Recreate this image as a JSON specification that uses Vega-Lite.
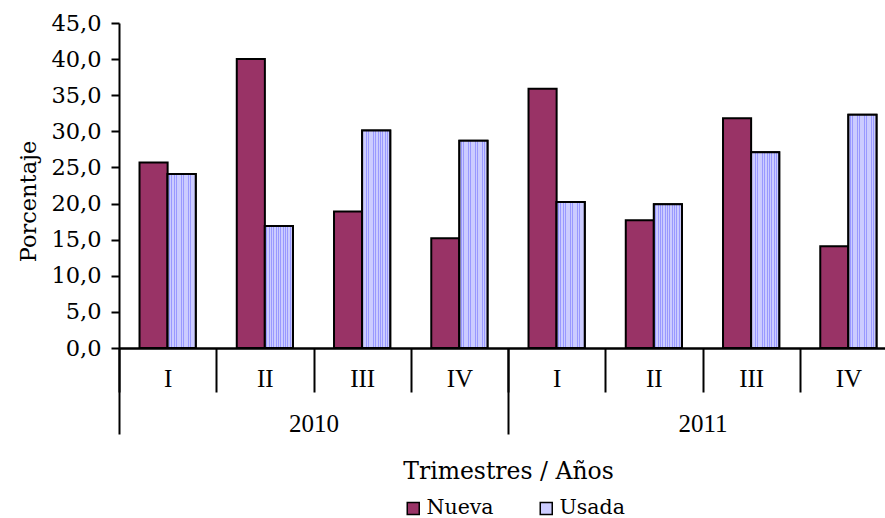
{
  "$schema": "https://vega.github.io/schema/vega-lite/v6.json",
  "width": 778,
  "height": 325,
  "padding": {"left": 17, "top": 12, "right": 0, "bottom": 0},
  "background": "white",
  "config": {
    "view": {"stroke": null},
    "axis": {"domainColor": "#000", "tickColor": "#000", "domainWidth": 2, "tickWidth": 2, "labelColor": "#000", "titleColor": "#000", "grid": false}
  },
  "data": {"values": [
    {"year": "2010", "cat": "2010 I", "tipo": "Nueva", "valor": 25.7},
    {"year": "2010", "cat": "2010 I", "tipo": "Usada", "valor": 24.1},
    {"year": "2010", "cat": "2010 II", "tipo": "Nueva", "valor": 40.0},
    {"year": "2010", "cat": "2010 II", "tipo": "Usada", "valor": 16.9},
    {"year": "2010", "cat": "2010 III", "tipo": "Nueva", "valor": 18.9},
    {"year": "2010", "cat": "2010 III", "tipo": "Usada", "valor": 30.1},
    {"year": "2010", "cat": "2010 IV", "tipo": "Nueva", "valor": 15.2},
    {"year": "2010", "cat": "2010 IV", "tipo": "Usada", "valor": 28.7},
    {"year": "2011", "cat": "2011 I", "tipo": "Nueva", "valor": 35.9},
    {"year": "2011", "cat": "2011 I", "tipo": "Usada", "valor": 20.2},
    {"year": "2011", "cat": "2011 II", "tipo": "Nueva", "valor": 17.7},
    {"year": "2011", "cat": "2011 II", "tipo": "Usada", "valor": 19.9},
    {"year": "2011", "cat": "2011 III", "tipo": "Nueva", "valor": 31.8},
    {"year": "2011", "cat": "2011 III", "tipo": "Usada", "valor": 27.1},
    {"year": "2011", "cat": "2011 IV", "tipo": "Nueva", "valor": 14.1},
    {"year": "2011", "cat": "2011 IV", "tipo": "Usada", "valor": 32.3}
  ]},
  "layer": [
    {
      "layer": [
        {
          "mark": {"type": "bar", "stroke": "#000", "strokeWidth": 2},
          "encoding": {
            "x": {"field": "cat", "type": "nominal", "sort": null, "scale": {"paddingInner": 0, "paddingOuter": 0},
              "axis": {"title": null, "orient": "bottom", "labelExpr": "split(datum.label,' ')[1]", "tickBand": "extent", "tickSize": 44, "labelPadding": -13.5, "labelBaseline": "middle", "labelFont": "Liberation Serif", "labelFontSize": 25, "labelAngle": 0}},
            "xOffset": {"field": "tipo", "type": "nominal", "scale": {"paddingInner": 0, "paddingOuter": 0.73}},
            "y": {"field": "valor", "type": "quantitative", "scale": {"domain": [0, 45]},
              "axis": {"title": "Porcentaje", "values": [0, 5, 10, 15, 20, 25, 30, 35, 40, 45], "labelExpr": "replace(format(datum.value,'.1f'),'.',',')", "labelFont": "DejaVu Serif", "labelFontSize": 22.5, "tickSize": 8, "labelPadding": 10, "titleFont": "DejaVu Serif", "titleFontSize": 22.5, "titleFontWeight": "normal", "titlePadding": 10, "titleY": 178}},
            "color": {"field": "tipo", "type": "nominal", "scale": {"range": ["#993366", "#CCCCFF"]},
              "legend": {"title": null, "orient": "none", "legendX": 284, "legendY": 475, "direction": "horizontal", "symbolType": "square", "symbolSize": 144, "symbolStrokeColor": "#000", "symbolStrokeWidth": 1.5, "labelFont": "DejaVu Serif", "labelFontSize": 20.5, "labelColor": "#000", "columnPadding": 42, "labelOffset": 3, "padding": 0}}
          }
        },
        {
          "transform": [{"filter": "datum.tipo === 'Usada'"}],
          "mark": {"type": "bar", "stroke": "#000", "strokeWidth": 2,
            "fill": {"gradient": "linear", "x1": 0, "x2": 1, "y1": 0, "y2": 0, "stops": [
              {"offset": 0, "color": "#CCCCFF"}, {"offset": 0.0542, "color": "#CCCCFF"}, {"offset": 0.0542, "color": "#9999FF"}, {"offset": 0.0833, "color": "#9999FF"},
              {"offset": 0.0833, "color": "#CCCCFF"}, {"offset": 0.1375, "color": "#CCCCFF"}, {"offset": 0.1375, "color": "#9999FF"}, {"offset": 0.1667, "color": "#9999FF"},
              {"offset": 0.1667, "color": "#CCCCFF"}, {"offset": 0.2208, "color": "#CCCCFF"}, {"offset": 0.2208, "color": "#9999FF"}, {"offset": 0.25, "color": "#9999FF"},
              {"offset": 0.25, "color": "#CCCCFF"}, {"offset": 0.3042, "color": "#CCCCFF"}, {"offset": 0.3042, "color": "#9999FF"}, {"offset": 0.3333, "color": "#9999FF"},
              {"offset": 0.3333, "color": "#CCCCFF"}, {"offset": 0.3875, "color": "#CCCCFF"}, {"offset": 0.3875, "color": "#9999FF"}, {"offset": 0.4167, "color": "#9999FF"},
              {"offset": 0.4167, "color": "#CCCCFF"}, {"offset": 0.4708, "color": "#CCCCFF"}, {"offset": 0.4708, "color": "#9999FF"}, {"offset": 0.5, "color": "#9999FF"},
              {"offset": 0.5, "color": "#CCCCFF"}, {"offset": 0.5542, "color": "#CCCCFF"}, {"offset": 0.5542, "color": "#9999FF"}, {"offset": 0.5833, "color": "#9999FF"},
              {"offset": 0.5833, "color": "#CCCCFF"}, {"offset": 0.6375, "color": "#CCCCFF"}, {"offset": 0.6375, "color": "#9999FF"}, {"offset": 0.6667, "color": "#9999FF"},
              {"offset": 0.6667, "color": "#CCCCFF"}, {"offset": 0.7208, "color": "#CCCCFF"}, {"offset": 0.7208, "color": "#9999FF"}, {"offset": 0.75, "color": "#9999FF"},
              {"offset": 0.75, "color": "#CCCCFF"}, {"offset": 0.8042, "color": "#CCCCFF"}, {"offset": 0.8042, "color": "#9999FF"}, {"offset": 0.8333, "color": "#9999FF"},
              {"offset": 0.8333, "color": "#CCCCFF"}, {"offset": 0.8875, "color": "#CCCCFF"}, {"offset": 0.8875, "color": "#9999FF"}, {"offset": 0.9167, "color": "#9999FF"},
              {"offset": 0.9167, "color": "#CCCCFF"}, {"offset": 0.9708, "color": "#CCCCFF"}, {"offset": 0.9708, "color": "#9999FF"}, {"offset": 1, "color": "#9999FF"}
            ]}},
          "encoding": {
            "x": {"field": "cat", "type": "nominal", "sort": null, "scale": {"paddingInner": 0, "paddingOuter": 0},
              "axis": {"title": null, "orient": "bottom", "labelExpr": "split(datum.label,' ')[1]", "tickBand": "extent", "tickSize": 44, "labelPadding": -13.5, "labelBaseline": "middle", "labelFont": "Liberation Serif", "labelFontSize": 25, "labelAngle": 0}},
            "xOffset": {"field": "tipo", "type": "nominal", "scale": {"paddingInner": 0, "paddingOuter": 0.73}},
            "y": {"field": "valor", "type": "quantitative", "scale": {"domain": [0, 45]},
              "axis": {"title": "Porcentaje", "values": [0, 5, 10, 15, 20, 25, 30, 35, 40, 45], "labelExpr": "replace(format(datum.value,'.1f'),'.',',')", "labelFont": "DejaVu Serif", "labelFontSize": 22.5, "tickSize": 8, "labelPadding": 10, "titleFont": "DejaVu Serif", "titleFontSize": 22.5, "titleFontWeight": "normal", "titlePadding": 10, "titleY": 178}}
          }
        }
      ]
    },
    {
      "mark": {"type": "rule", "opacity": 0},
      "encoding": {
        "x": {"field": "year", "type": "nominal", "scale": {"paddingInner": 0, "paddingOuter": 0},
          "axis": {"title": "Trimestres / Años", "orient": "bottom", "tickBand": "extent", "tickSize": 86, "labelPadding": -11, "labelBaseline": "middle", "labelFont": "Liberation Serif", "labelFontSize": 25, "labelAngle": 0, "titleFont": "DejaVu Serif", "titleFontSize": 23.5, "titleFontWeight": "normal", "titlePadding": 23}}
      }
    }
  ],
  "resolve": {"scale": {"x": "independent"}, "axis": {"x": "independent"}}
}
